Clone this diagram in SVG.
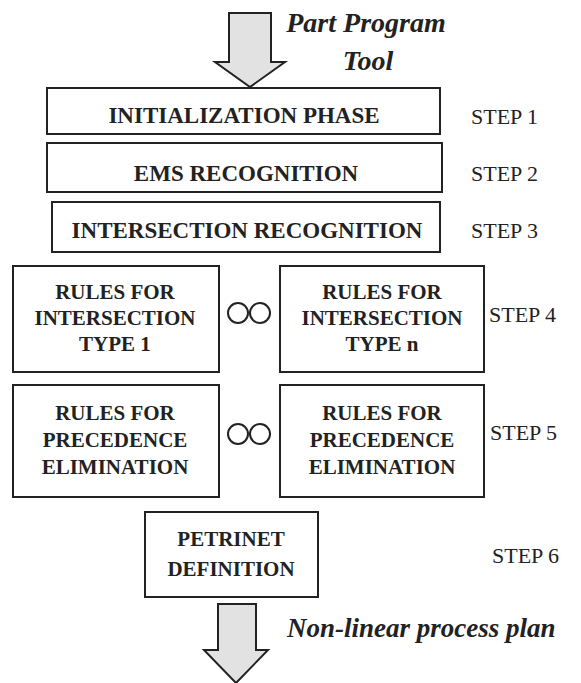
<svg xmlns="http://www.w3.org/2000/svg" width="581" height="683" viewBox="0 0 581 683">
<style>
.box{fill:#fff;stroke:#222;stroke-width:2}
.bt{font-family:"Liberation Serif",serif;font-weight:bold;font-size:23px;fill:#222;text-anchor:middle}
.bs{font-family:"Liberation Serif",serif;font-weight:bold;font-size:21px;fill:#222;text-anchor:middle}
.st{font-family:"Liberation Serif",serif;font-size:22px;fill:#222}
.it{font-family:"Liberation Serif",serif;font-weight:bold;font-style:italic;font-size:28px;fill:#222}
.arr{fill:#e2e2e2;stroke:#222;stroke-width:2;stroke-linejoin:miter}
.dot{fill:none;stroke:#222;stroke-width:2}
</style>
<rect width="581" height="683" fill="#fff"/>
<g id="connectors">
<path class="arr" d="M229,13 H271 V62 H285 L250,87 L215,62 H229 Z"/>
<path class="arr" d="M218,604 H256 V650 H268 L236,683 L204,650 H218 Z"/>
</g>
<g id="input-label"><text class="it" x="366" y="32" text-anchor="middle">Part Program</text><text class="it" x="368" y="70" text-anchor="middle">Tool</text></g>
<g id="step1"><rect class="box" x="47" y="88" width="393" height="46"/><text class="bt" x="244" y="123">INITIALIZATION PHASE</text><text class="st" x="471" y="124">STEP 1</text></g>
<g id="step2"><rect class="box" x="47" y="143" width="395" height="49"/><text class="bt" x="246" y="181">EMS RECOGNITION</text><text class="st" x="471" y="181">STEP 2</text></g>
<g id="step3"><rect class="box" x="52" y="202" width="388" height="50"/><text class="bt" x="247" y="238">INTERSECTION RECOGNITION</text><text class="st" x="471" y="238">STEP 3</text></g>
<g id="step4-type1"><rect class="box" x="13" y="266" width="206" height="106"/><text class="bs" x="115" y="299">RULES FOR</text><text class="bs" x="115" y="325">INTERSECTION</text><text class="bs" x="115" y="351">TYPE 1</text></g>
<g id="step4-dots"><circle class="dot" cx="238" cy="313" r="10"/><circle class="dot" cx="260" cy="313" r="10"/></g>
<g id="step4-typen"><rect class="box" x="280" y="266" width="204" height="106"/><text class="bs" x="382" y="299">RULES FOR</text><text class="bs" x="382" y="325">INTERSECTION</text><text class="bs" x="382" y="351">TYPE n</text><text class="st" x="489" y="322">STEP 4</text></g>
<g id="step5-a"><rect class="box" x="13" y="385" width="206" height="112"/><text class="bs" x="115" y="420">RULES FOR</text><text class="bs" x="115" y="447">PRECEDENCE</text><text class="bs" x="115" y="474">ELIMINATION</text></g>
<g id="step5-dots"><circle class="dot" cx="238" cy="434" r="10"/><circle class="dot" cx="260" cy="434" r="10"/></g>
<g id="step5-b"><rect class="box" x="280" y="385" width="204" height="112"/><text class="bs" x="382" y="420">RULES FOR</text><text class="bs" x="382" y="447">PRECEDENCE</text><text class="bs" x="382" y="474">ELIMINATION</text><text class="st" x="490" y="440">STEP 5</text></g>
<g id="step6"><rect class="box" x="145" y="512" width="173" height="85"/><text class="bs" x="231" y="546">PETRINET</text><text class="bs" x="231" y="576">DEFINITION</text><text class="st" x="492" y="563">STEP 6</text></g>
<g id="output-label"><text class="it" x="287" y="637" style="font-size:27px">Non-linear process plan</text></g>
</svg>
